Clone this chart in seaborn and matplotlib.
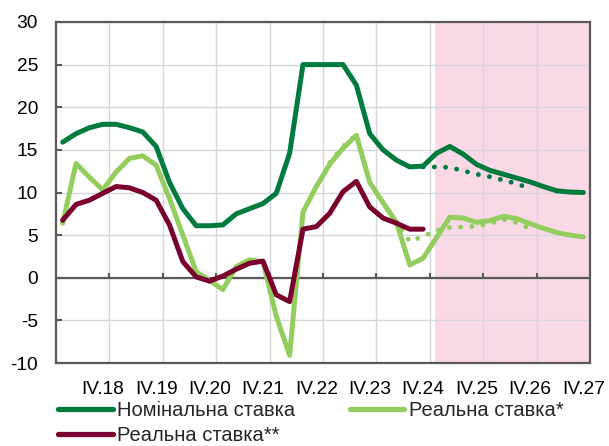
import numpy as np
import pandas as pd
import matplotlib
matplotlib.use("Agg")
import matplotlib.pyplot as plt
from matplotlib.lines import Line2D
from matplotlib.ticker import FixedLocator
import seaborn as sns

# Quarterly categories, I.18 ... IV.27
quarters = [f"{q}.{y}" for y in range(18, 28) for q in ("I", "II", "III", "IV")]
tick_labels = ["IV.18", "IV.19", "IV.20", "IV.21", "IV.22",
               "IV.23", "IV.24", "IV.25", "IV.26", "IV.27"]

# Nominal key rate, % (actual + forecast)
nominal = [15.9, 16.9, 17.6, 18.0, 18.0, 17.6, 17.1, 15.4,
           11.2, 8.1, 6.1, 6.1, 6.2, 7.5, 8.1, 8.7,
           9.9, 14.6, 25.0, 25.0, 25.0, 25.0, 22.6, 16.9,
           15.0, 13.8, 13.0, 13.1, 14.6, 15.4, 14.5, 13.3,
           12.6, 12.15, 11.7, 11.25, 10.7, 10.2, 10.05, 10.0]
# Real rate*, %
real_a = [6.4, 13.4, 11.8, 10.3, 12.4, 14.0, 14.3, 13.2,
          9.3, 5.0, 0.7, -0.3, -1.4, 1.3, 2.1, 1.9,
          -4.5, -9.1, 7.7, 10.7, 13.3, 15.2, 16.7, 11.2,
          8.8, 6.5, 1.5, 2.3, 4.7, 7.1, 7.0, 6.5,
          6.7, 7.2, 6.95, 6.35, 5.8, 5.3, 5.0, 4.8]
# Real rate**, % (actual only, I.18 ... IV.24)
real_b = [6.75, 8.6, 9.1, 9.9, 10.7, 10.55, 10.0, 9.1,
          6.2, 1.9, 0.1, -0.4, 0.2, 1.0, 1.7, 1.95,
          -2.0, -2.8, 5.7, 6.0, 7.55, 10.1, 11.3, 8.3,
          7.0, 6.4, 5.7, 5.7]
# Previous forecast paths (dotted)
nominal_prev_start = "IV.24"
nominal_prev = [13.0, 13.0, 12.95, 12.55, 12.15, 11.85, 11.45, 11.05, 10.45]
real_a_prev_start = "I.23"
real_a_prev = [13.5, 15.4, 16.8, 11.2, 8.8, 6.5, 4.25, 4.85,
               5.55, 5.9, 5.95, 6.05, 6.35, 6.85, 6.45, 5.8]
forecast_start = "I.25"

names = ["Номінальна ставка", "Реальна ставка*", "Реальна ставка**"]
c_nom, c_real_a, c_real_b = "#007A3E", "#92CD5E", "#7A0030"
axis_col = "#595959"
grid_col = "#D3D6DC"

sns.set_style("white")
plt.rcParams["font.family"] = ["Liberation Sans", "DejaVu Sans"]
plt.rcParams["font.size"] = 13.5

pos = {q: i for i, q in enumerate(quarters)}


def series(values, start):
    i0 = pos[start]
    return pd.DataFrame({"x": np.arange(i0, i0 + len(values)), "y": values})


fig = plt.figure(figsize=(6.09, 4.46), dpi=100)
ax = fig.add_axes([56 / 609, 1 - 363 / 446, 534 / 609, 341 / 446])

# forecast horizon shading
ax.axvspan(pos[forecast_start] - 0.1, len(quarters) - 0.5,
           color="#FAD9E6", lw=0, zorder=0.2)

solid_kw = dict(lw=3.6, solid_capstyle="round", solid_joinstyle="round", legend=False)
dot_kw = dict(lw=3.5, linestyle=(0, (0.01, 2.3)), dash_capstyle="round", legend=False)

sns.lineplot(data=series(nominal_prev, nominal_prev_start), x="x", y="y",
             color=c_nom, ax=ax, **dot_kw)
sns.lineplot(data=series(real_a_prev, real_a_prev_start), x="x", y="y",
             color=c_real_a, ax=ax, **dot_kw)
sns.lineplot(data=series(nominal, "I.18"), x="x", y="y", color=c_nom, ax=ax, **solid_kw)
sns.lineplot(data=series(real_a, "I.18"), x="x", y="y", color=c_real_a, ax=ax, **solid_kw)
sns.lineplot(data=series(real_b, "I.18"), x="x", y="y", color=c_real_b, ax=ax, **solid_kw)

ax.axhline(0, color=axis_col, lw=1.6, zorder=1.5)

ax.set_xlim(-0.5, len(quarters) - 0.5)
ax.set_ylim(-10, 30)
ax.set_yticks(np.arange(-10, 31, 5))
ax.set_yticklabels([f"{int(v)}" for v in np.arange(-10, 31, 5)])

year_ends = [pos[t] for t in tick_labels]
ax.xaxis.set_major_locator(FixedLocator(year_ends))
ax.set_xticklabels(tick_labels)
ax.xaxis.set_minor_locator(FixedLocator([p + 0.5 for p in year_ends[:-1]]))
ax.tick_params(axis="x", which="both", length=0, pad=13, labelsize=13.8, colors="black")
ax.tick_params(axis="y", direction="in", length=4, width=1.5, color=axis_col,
               pad=13, labelsize=13.8, labelcolor="black", left=True)

# small ticks on the zero line at year boundaries
ax.vlines([p + 0.5 for p in year_ends[:-1]], 0, 0.55, color=axis_col, lw=1.5, zorder=1.6)

ax.grid(axis="y", which="major", color=grid_col, lw=1)
ax.grid(axis="x", which="minor", color=grid_col, lw=1)
ax.set_axisbelow(True)
for sp in ax.spines.values():
    sp.set_color(axis_col)
    sp.set_linewidth(1.6)
ax.set_xlabel("")
ax.set_ylabel("")

handles = [Line2D([], [], color=c_nom, lw=3.8),
           Line2D([], [], color=c_real_b, lw=3.8),
           Line2D([], [], color=c_real_a, lw=3.8)]
fig.legend(handles, [names[0], names[2], names[1]], ncol=2, frameon=False,
           loc="upper left", bbox_to_anchor=(58 / 609, 1 - 401 / 446),
           borderpad=0, borderaxespad=0, handlelength=2.73, handletextpad=0.2,
           columnspacing=2.7, labelspacing=0.28, fontsize=14.5)

fig.savefig("out.png", dpi=100)
